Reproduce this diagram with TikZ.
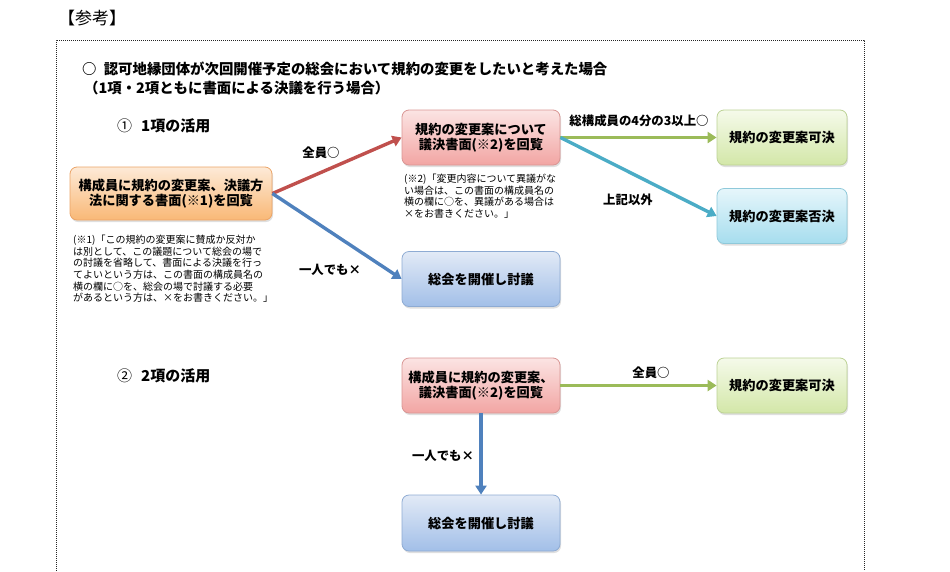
\documentclass[tikz,border=0pt]{standalone}
\usepackage{fontspec}
\setmainfont{Noto Sans CJK JP}
\usetikzlibrary{arrows.meta,shadows}

\definecolor{orgtop}{HTML}{FDEAD7}
\definecolor{orgbot}{HTML}{F9B876}
\definecolor{orgline}{HTML}{EBA467}
\definecolor{redtop}{HTML}{FBE4E3}
\definecolor{redbot}{HTML}{F2A5A3}
\definecolor{redline}{HTML}{D99694}
\definecolor{blutop}{HTML}{E2EAF6}
\definecolor{blubot}{HTML}{A2BFE8}
\definecolor{bluline}{HTML}{8EABD3}
\definecolor{grntop}{HTML}{F5FAEA}
\definecolor{grnbot}{HTML}{D3E7A8}
\definecolor{grnline}{HTML}{BCD294}
\definecolor{cyntop}{HTML}{E6F6FB}
\definecolor{cynbot}{HTML}{A6DDEE}
\definecolor{cynline}{HTML}{8FC9DA}
\definecolor{redarr}{HTML}{C0504D}
\definecolor{bluarr}{HTML}{4F81BD}
\definecolor{grnarr}{HTML}{9BBB59}
\definecolor{cynarr}{HTML}{4BACC6}

\begin{document}
\begin{tikzpicture}[x=1pt,y=-1pt,
  box/.style={draw, line width=0.8pt, rounded corners=7pt, align=center, inner sep=0pt,
    font=\fontsize{13.2}{15}\selectfont\bfseries,
    drop shadow={shadow xshift=1pt,shadow yshift=-2pt,opacity=0.25}},
  widebox/.style={box, minimum width=158pt, minimum height=55pt},
  smallbox/.style={box, minimum width=130pt, minimum height=55pt},
  orgbox/.style={top color=orgtop, bottom color=orgbot, draw=orgline},
  redbox/.style={top color=redtop, bottom color=redbot, draw=redline},
  blubox/.style={top color=blutop, bottom color=blubot, draw=bluline},
  grnbox/.style={top color=grntop, bottom color=grnbot, draw=grnline},
  cynbox/.style={top color=cyntop, bottom color=cynbot, draw=cynline},
  flow/.style={line width=3.4pt, -{Triangle[width=11pt,length=9pt]}},
  lbl/.style={font=\fontsize{12.4}{14}\selectfont\bfseries},
  note/.style={anchor=north west, inner sep=0pt, align=left, font=\fontsize{10}{11.6}\selectfont},
  head/.style={anchor=west, inner sep=0pt, font=\fontsize{14.4}{17}\selectfont\bfseries}]
\useasboundingbox (0,0) rectangle (950,571);

\node[anchor=west, inner sep=0pt, font=\fontsize{17}{20}\selectfont] (ref) at (58,18) {【参考】};
\draw[line width=0.9pt, dash pattern=on 1pt off 1pt, black!85] (56,571) -- (56,40) -- (864,40) -- (864,571);

\node[head] (title) at (82,69) {○\hspace{0.5em}認可地縁団体が次回開催予定の総会において規約の変更をしたいと考えた場合};
\node[head] (subtitle) at (84,88) {（1項・2項ともに書面による決議を行う場合）};

\node[head, font=\fontsize{15}{17}\selectfont\bfseries] (sec1) at (117,126) {{\mdseries ①}\hspace{0.6em}1項の活用};
\node[head, font=\fontsize{15}{17}\selectfont\bfseries] (sec2) at (117,376) {{\mdseries ②}\hspace{0.6em}2項の活用};

\node[box, orgbox, minimum width=202pt, minimum height=53pt] (circ) at (171,193.5)
  {構成員に規約の変更案、決議方\\法に関する書面(※1)を回覧};
\node[note] (note1) at (73,235)
  {(※1)「この規約の変更案に賛成か反対か\\
   は別として、この議題について総会の場で\\
   の討議を省略して、書面による決議を行っ\\
   てよいという方は、この書面の構成員名の\\
   横の欄に○を、総会の場で討議する必要\\
   があるという方は、×をお書きください。」};

\node[widebox, redbox] (vote) at (481,137.5) {規約の変更案について\\議決書面(※2)を回覧};
\node[note] (note2) at (404,174)
  {(※2)「変更内容について異議がな\\
   い場合は、この書面の構成員名の\\
   横の欄に○を、異議がある場合は\\
   ×をお書きください。」};
\node[widebox, blubox] (meet) at (481,279) {総会を開催し討議};
\node[smallbox, grnbox] (pass) at (782,137.5) {規約の変更案可決};
\node[smallbox, cynbox] (fail) at (782,216) {規約の変更案否決};

\draw[flow, redarr] (circ.east) -- (vote.west);
\draw[flow, bluarr] (circ.east) -- (meet.west);
\draw[flow, grnarr] (vote.east) -- (pass.west);
\draw[flow, cynarr] (vote.east) -- (fail.west);

\node[lbl] (all1) at (321,153) {全員○};
\node[lbl] (one1) at (330,270) {一人でも×};
\node[lbl] (three) at (639,121) {総構成員の4分の3以上○};
\node[lbl] (other) at (628,200) {上記以外};

\node[widebox, redbox] (vote2) at (481,385.5) {構成員に規約の変更案、\\議決書面(※2)を回覧};
\node[smallbox, grnbox] (pass2) at (782,385.5) {規約の変更案可決};
\node[widebox, blubox, minimum height=56pt] (meet2) at (481,523) {総会を開催し討議};

\draw[flow, grnarr] (vote2.east) -- (pass2.west);
\draw[flow, bluarr] (vote2.south) -- (meet2.north);

\node[lbl] (all2) at (651,373) {全員○};
\node[lbl] (one2) at (443,456) {一人でも×};
\end{tikzpicture}
\end{document}
